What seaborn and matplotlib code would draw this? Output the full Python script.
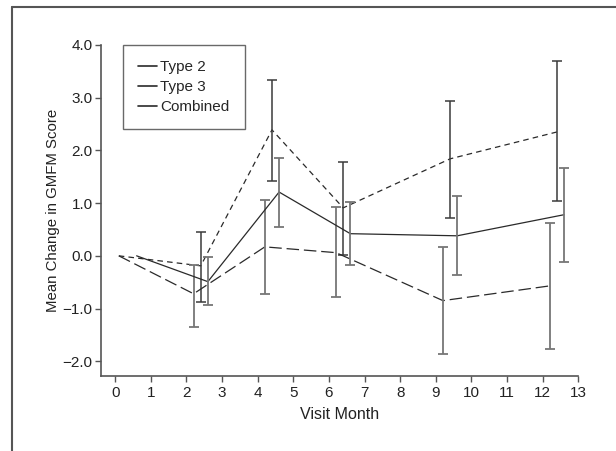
import matplotlib
matplotlib.use("Agg")
import matplotlib.pyplot as plt
from matplotlib.lines import Line2D
import seaborn as sns
import pandas as pd
import numpy as np

# Data
visit_month = [0, 2, 4, 6, 9, 12]
series_names = ["Type 2", "Type 3", "Combined"]
offsets = {"Type 3": [0.1, 0.2, 0.2, 0.2, 0.2, 0.2],
           "Type 2": [0.1, 0.4, 0.4, 0.4, 0.4, 0.4],
           "Combined": [0.6, 0.6, 0.6, 0.6, 0.6, 0.6]}

type2_mean = [0.0, -0.19, 2.39, 0.91, 1.84, 2.35]
type2_low = [np.nan, -0.88, 1.42, 0.01, 0.72, 1.04]
type2_high = [np.nan, 0.45, 3.34, 1.78, 2.94, 3.69]

type3_mean = [0.0, -0.72, 0.17, 0.06, -0.85, -0.57]
type3_low = [np.nan, -1.35, -0.72, -0.79, -1.87, -1.76]
type3_high = [np.nan, -0.18, 1.06, 0.92, 0.16, 0.62]

comb_mean = [0.0, -0.49, 1.21, 0.42, 0.38, 0.78]
comb_low = [np.nan, -0.93, 0.54, -0.18, -0.37, -0.11]
comb_high = [np.nan, -0.03, 1.86, 1.02, 1.14, 1.67]

x_ticks = list(range(0, 14))
y_ticks = [-2.0, -1.0, 0.0, 1.0, 2.0, 3.0, 4.0]
y_tick_labels = ["\u22122.0", "\u22121.0", "0.0", "1.0", "2.0", "3.0", "4.0"]

sns.set_style("ticks")
plt.rcParams["font.family"] = ["Liberation Sans", "DejaVu Sans"]
plt.rcParams["lines.scale_dashes"] = False

rows = []
for name, m, lo, hi in [("Type 2", type2_mean, type2_low, type2_high),
                        ("Type 3", type3_mean, type3_low, type3_high),
                        ("Combined", comb_mean, comb_low, comb_high)]:
    for v, off, mm, l, h in zip(visit_month, offsets[name], m, lo, hi):
        rows.append({"series": name, "x": v + off, "mean": mm, "low": l, "high": h})
df = pd.DataFrame(rows)

fig = plt.figure(figsize=(6.16, 4.51), dpi=100)
ax = fig.add_axes([101 / 616, 1 - 376 / 451, (578.3 - 101) / 616, (376 - 45) / 451])

line_color = "#2a2a2a"
err_colors = {"Type 2": "#3a3a3a", "Type 3": "#767676", "Combined": "#767676"}
err_widths = {"Type 2": 1.1, "Type 3": 1.3, "Combined": 1.3}
dash_map = {"Type 2": (4, 3), "Type 3": (9, 3.5), "Combined": ""}

for name in series_names:
    sub = df[df["series"] == name]
    sns.lineplot(data=sub, x="x", y="mean", ax=ax, color=line_color, lw=0.9,
                 estimator=None, sort=False, legend=False)
    ln = ax.lines[-1]
    if dash_map[name]:
        ln.set_dashes(dash_map[name])
    e = sub.dropna()
    ax.errorbar(e["x"], e["mean"],
                yerr=[e["mean"] - e["low"], e["high"] - e["mean"]],
                fmt="none", ecolor=err_colors[name], elinewidth=err_widths[name],
                capsize=3.5, capthick=err_widths[name])

ax.set_xlim(-0.4, 13)
ax.set_ylim(-2.28, 4.0)
ax.set_xticks(x_ticks)
ax.set_yticks(y_ticks)
ax.set_yticklabels(y_tick_labels)
ax.tick_params(axis="both", direction="out", length=4.5, width=1, color="#555555",
               labelsize=11, labelcolor="#222222")
ax.tick_params(axis="y", pad=1.5)
ax.tick_params(axis="x", pad=3)
for s in ["top", "right"]:
    ax.spines[s].set_visible(False)
for s in ["left", "bottom"]:
    ax.spines[s].set_color("#555555")
    ax.spines[s].set_linewidth(1.2)

ax.set_xlabel("Visit Month", fontsize=11.5, color="#222222", labelpad=5)
ax.set_ylabel("Mean Change in GMFM Score", fontsize=10.8, color="#222222", labelpad=2)

handles = [Line2D([0], [0], color=line_color, lw=1.2) for _ in series_names]
leg = ax.legend(handles, series_names, loc="upper left", bbox_to_anchor=(22 / 477.3, 1.0),
                frameon=True, fancybox=False, fontsize=11, handlelength=1.25,
                handletextpad=0.2, labelspacing=0.38, borderpad=1.0, borderaxespad=0)
leg.get_frame().set_edgecolor("#444444")
leg.get_frame().set_linewidth(1.0)

# Outer frame lines (top and left)
fig.add_artist(Line2D([12 / 616, 1], [1 - 6.5 / 451, 1 - 6.5 / 451], color="#555555", lw=1.5,
                      transform=fig.transFigure))
fig.add_artist(Line2D([12 / 616, 12 / 616], [0, 1 - 6.5 / 451], color="#555555", lw=1.5,
                      transform=fig.transFigure))

fig.savefig("out.png", dpi=100)
